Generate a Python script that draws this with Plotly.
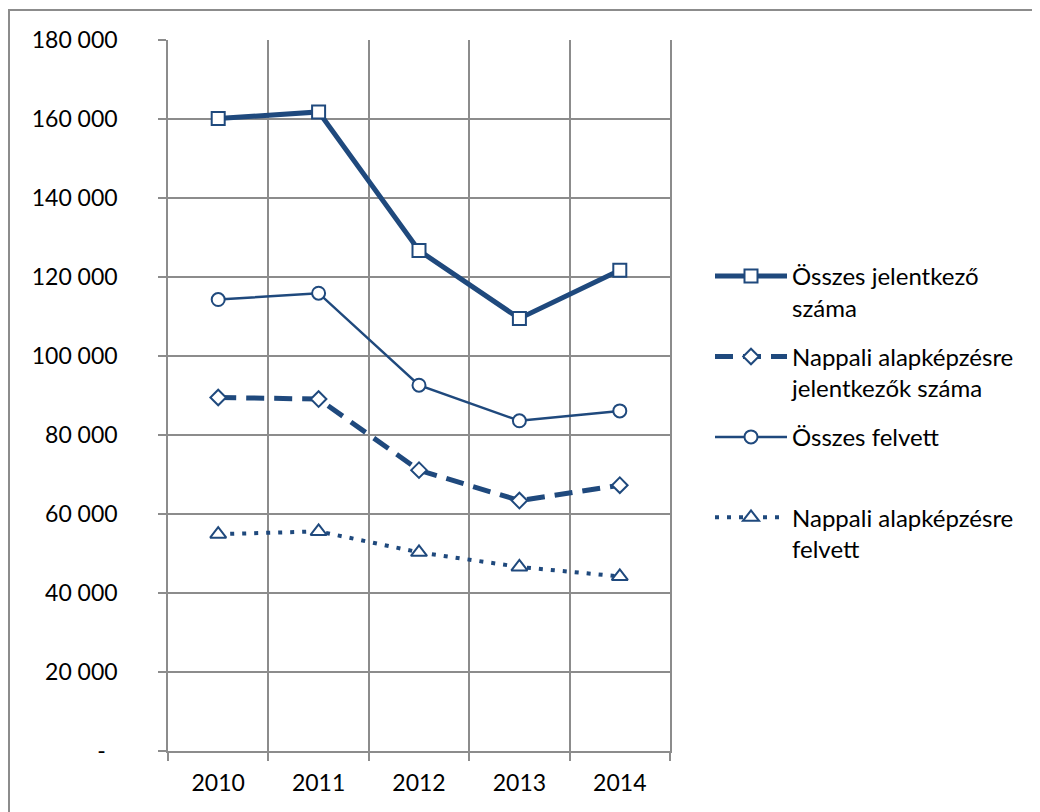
import plotly.graph_objects as go

years = ["2010", "2011", "2012", "2013", "2014"]
osszes_jelentkezo = [160100, 161800, 126700, 109500, 121700]
nappali_jelentkezo = [89500, 89100, 71100, 63400, 67300]
osszes_felvett = [114300, 115900, 92600, 83600, 86100]
nappali_felvett = [54900, 55600, 50300, 46600, 44200]

names = [
    "Összes jelentkező<br>száma",
    "Nappali alapképzésre<br>jelentkezők száma",
    "Összes felvett<br> ",
    "Nappali alapképzésre<br>felvett",
]

ytick_vals = [0, 20000, 40000, 60000, 80000, 100000, 120000, 140000, 160000, 180000]
ytick_text = ["-&nbsp;&nbsp;", "20 000", "40 000", "60 000", "80 000", "100 000",
              "120 000", "140 000", "160 000", "180 000"]

C = "#1F497D"
GRID = "#8C8C8C"
FONT = "Lato"

fig = go.Figure()
fig.add_trace(go.Scatter(
    x=years, y=osszes_jelentkezo, name=names[0], mode="lines+markers",
    line=dict(color=C, width=5),
    marker=dict(symbol="square", size=13, color="white", line=dict(color=C, width=2)),
    legendgroup="a"))
fig.add_trace(go.Scatter(
    x=years, y=nappali_jelentkezo, name=names[1], mode="lines+markers",
    line=dict(color=C, width=5, dash="18px,10px"),
    marker=dict(symbol="diamond", size=12, color="white", line=dict(color=C, width=2)),
    legendgroup="b"))
fig.add_trace(go.Scatter(
    x=years, y=osszes_felvett, name=names[2], mode="lines+markers",
    line=dict(color=C, width=2.5),
    marker=dict(symbol="circle", size=13, color="white", line=dict(color=C, width=2)),
    legendgroup="c"))
fig.add_trace(go.Scatter(
    x=years, y=nappali_felvett, name=names[3], mode="lines+markers",
    line=dict(color=C, width=4, dash="4px,8px"),
    marker=dict(symbol="triangle-up", size=14, color="white", line=dict(color=C, width=2)),
    legendgroup="d"))

# figure coordinates (page is offset by 8px body margin)
L, R, T, B = 160, 662, 32, 743
W, H = 1040, 812
pw = R - L
ph = B - T

def px_x(p):
    return (p - L) / pw

def px_y(p):
    return (B - p) / ph

fig.update_layout(
    width=W, height=H,
    margin=dict(l=L, r=W - R, t=T, b=H - B, pad=0),
    paper_bgcolor="white", plot_bgcolor="white",
    font=dict(family=FONT, size=23, color="black"),
    showlegend=True,
    legend=dict(
        xref="container", yref="container",
        x=702 / W, y=1 - 246 / H, xanchor="left", yanchor="top",
        valign="top", itemwidth=72, traceorder="grouped", tracegroupgap=15,
        font=dict(family=FONT, size=24, color="black"),
        bgcolor="rgba(0,0,0,0)",
    ),
    xaxis=dict(
        type="category", categoryorder="array", categoryarray=years,
        tickson="boundaries", ticks="outside", ticklen=8, tickcolor=GRID, tickwidth=1.5,
        showgrid=True, gridcolor=GRID, gridwidth=1.5,
        showline=True, linecolor=GRID, linewidth=1.5,
        tickfont=dict(family=FONT, size=23, color="black"),
        ticklabelstandoff=11,
        range=[-0.5, 4.5],
    ),
    yaxis=dict(
        range=[0, 180000], tickvals=ytick_vals, ticktext=ytick_text,
        ticks="outside", ticklen=8, tickcolor=GRID, tickwidth=1.5,
        showgrid=True, gridcolor=GRID, gridwidth=1.5, zeroline=False,
        showline=True, linecolor=GRID, linewidth=1.5, mirror=True,
        tickfont=dict(family=FONT, size=23, color="black"),
        ticklabelstandoff=36,
    ),
    shapes=[dict(
        type="rect", xref="paper", yref="paper",
        x0=px_x(1), x1=px_x(1100), y0=px_y(900), y1=px_y(2),
        line=dict(color=GRID, width=2), fillcolor="rgba(0,0,0,0)", layer="below",
    )],
)

fig.write_html("out.html")
